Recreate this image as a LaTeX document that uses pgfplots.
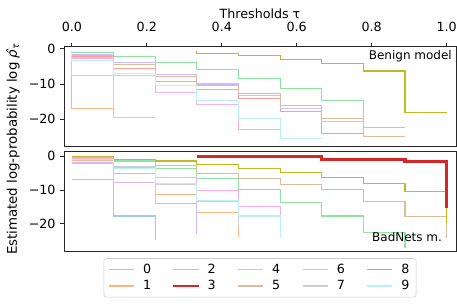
\documentclass[border=0pt]{standalone}
\usepackage{pgfplots}
\pgfplotsset{compat=1.18}
\usepackage{fontspec}
\setmainfont{DejaVu Sans}
\definecolor{c0}{HTML}{A1C9F4}
\definecolor{c1}{HTML}{FFB482}
\definecolor{c2}{HTML}{8DE5A1}
\definecolor{c3p}{HTML}{FF9F9B}
\definecolor{c3}{HTML}{D62728}
\definecolor{c4}{HTML}{D0BBFF}
\definecolor{c5}{HTML}{DEBB9B}
\definecolor{c6}{HTML}{FAB0E4}
\definecolor{c7}{HTML}{CFCFCF}
\definecolor{c8}{HTML}{BCBD22}
\definecolor{c9}{HTML}{B9F2F0}
\pgfplotsset{
  panel/.style={
    scale only axis, width=294pt, height=75pt,
    xmin=-0.021, xmax=1.025,
    tick align=outside,
    major tick length=3pt,
    tick style={black!85, line width=0.6pt},
    axis line style={black!85, line width=0.6pt},
    ytick={-20,-10,0}, yticklabels={−20,−10,0},
    ytick pos=left,
    every tick label/.append style={font=\fontsize{9.5}{11}\selectfont},
    label style={font=\fontsize{9.5}{11}\selectfont},
    every axis plot/.append style={no marks, line width=0.8pt},
  },
}
\begin{document}
\fontsize{9.5}{11}\selectfont
\begin{tikzpicture}
% ---------------- top panel: benign model ----------------
\begin{axis}[panel, at={(0pt,78.9pt)}, anchor=south west,
  ymin=-27.8, ymax=0.66,
  xtick={0,0.2,0.4,0.6,0.8,1}, xticklabels={0.0,0.2,0.4,0.6,0.8,1.0},
  xtick pos=right, xticklabel pos=right,
  xticklabel style={yshift=5pt},
  xlabel={Thresholds τ},
  xlabel style={at={(axis description cs:0.5,1)}, anchor=center, yshift=24.75pt},
  every axis plot/.append style={const plot mark right},
]
\addplot[c1] coordinates {(0,-0.6)(0.1111,-16.9)};
\addplot[c2] coordinates {(0,-0.6)(0.1111,-1.06)(0.2222,-2.3)(0.3333,-4.0)(0.4444,-6.0)(0.5556,-8.5)(0.6667,-11.4)(0.7778,-14.7)(0.8889,-22.4)};
\addplot[c3p] coordinates {(0,-0.6)(0.1111,-2.2)(0.2222,-5.7)(0.3333,-9.2)(0.4444,-11.7)(0.5556,-14.0)(0.6667,-17.8)(0.7778,-24.0)};
\addplot[c4] coordinates {(0,-0.6)(0.1111,-1.5)(0.2222,-4.0)(0.3333,-7.3)(0.4444,-10.0)(0.5556,-13.3)(0.6667,-17.0)(0.7778,-20.7)};
\addplot[c5] coordinates {(0,-0.6)(0.1111,-1.8)(0.2222,-4.5)(0.3333,-8.0)(0.4444,-10.4)(0.5556,-12.8)(0.6667,-16.1)(0.7778,-19.9)(0.8889,-25.0)};
\addplot[c6] coordinates {(0,-0.6)(0.1111,-2.6)(0.2222,-7.6)(0.3333,-12.3)(0.4444,-15.9)(0.5556,-23.0)};
\addplot[c7] coordinates {(0,-0.6)(0.1111,-7.6)(0.2222,-19.5)};
\addplot[c8] coordinates {(0.3333,-0.6)(0.4444,-1.2)(0.5556,-2.0)(0.6667,-3.0)(0.7778,-4.2)(0.8889,-6.3)(1.0,-18.0)};
\addplot[c9] coordinates {(0,-0.6)(0.1111,-3.2)(0.2222,-7.0)(0.3333,-10.3)(0.4444,-14.7)(0.5556,-19.9)(0.6667,-25.5)};
\node[anchor=east, inner sep=0pt, font=\fontsize{9}{11}\selectfont] at (rel axis cs:0.99,0.9) {Benign model};
\end{axis}
% ---------------- bottom panel: BadNets model ----------------
\begin{axis}[panel, at={(0pt,0pt)}, anchor=south west,
  ymin=-28.3, ymax=1.35,
  xtick=\empty,
  every axis plot/.append style={const plot mark left},
  legend columns=5,
  legend image code/.code={\draw[#1, line width=1.4pt] (0pt,0pt) -- (19pt,0pt);},
  legend style={at={(0.5,-0.065)}, anchor=north, draw=black!20, rounded corners=2pt,
    font=\fontsize{9.5}{11}\selectfont, inner xsep=3pt, inner ysep=2pt,
    /tikz/every odd column/.append style={column sep=4pt},
    /tikz/every even column/.append style={column sep=14pt}},
  legend cell align=left,
]
\addlegendimage{c0}\addlegendentry{0}
\addlegendimage{c2}\addlegendentry{2}
\addlegendimage{c4}\addlegendentry{4}
\addlegendimage{c6}\addlegendentry{6}
\addlegendimage{c8}\addlegendentry{8}
\addlegendimage{c1}\addlegendentry{1}
\addlegendimage{c3}\addlegendentry{3}
\addlegendimage{c5}\addlegendentry{5}
\addlegendimage{c7}\addlegendentry{7}
\addlegendimage{c9}\addlegendentry{9}
\addplot[c0, forget plot] coordinates {(0,-6.8)(0.1111,-17.7)(0.2222,-24.8)};
\addplot[c1, forget plot] coordinates {(0,-1.3)(0.1111,-5.1)(0.2222,-11.4)(0.3333,-16.8)(0.4444,-24.0)};
\addplot[c2, forget plot] coordinates {(0,-0.4)(0.1111,-1.4)(0.2222,-3.6)(0.3333,-6.5)(0.4444,-9.9)(0.5556,-13.6)(0.6667,-17.7)(0.7778,-22.6)(0.8889,-27.1)};
\addplot[c4, forget plot] coordinates {(0,-2.0)(0.1111,-7.7)(0.2222,-14.0)(0.3333,-23.0)};
\addplot[c5, forget plot] coordinates {(0,-0.4)(0.1111,-1.6)(0.2222,-2.8)(0.3333,-5.1)(0.4444,-6.7)(0.5556,-8.4)(0.6667,-9.9)(0.7778,-13.3)(0.8889,-17.8)(1.0,-24.3)};
\addplot[c6, forget plot] coordinates {(0,-0.6)(0.1111,-3.3)(0.2222,-6.4)(0.3333,-10.1)(0.4444,-15.0)(0.5556,-17.5)};
\addplot[c7, forget plot] coordinates {(0,-1.0)(0.1111,-3.1)(0.2222,-8.3)(0.3333,-13.3)(0.4444,-21.0)};
\addplot[c8, forget plot] coordinates {(0,-0.2)(0.1111,-0.9)(0.2222,-1.4)(0.3333,-2.4)(0.4444,-3.6)(0.5556,-4.8)(0.6667,-6.3)(0.7778,-8.0)(0.8889,-10.4)(1.0,-20.1)};
\addplot[c9, forget plot] coordinates {(0,-1.0)(0.1111,-3.6)(0.2222,-8.1)(0.3333,-13.0)(0.4444,-17.7)(0.5556,-24.2)};
\addplot[c3, line width=2.5pt, forget plot] coordinates {(0.3333,0.0)(0.4444,0.0)(0.5556,0.0)(0.6667,-0.9)(0.7778,-0.9)(0.8889,-1.5)(1.0,-15.3)};
\node[anchor=east, inner sep=0pt, font=\fontsize{9}{11}\selectfont] at (rel axis cs:0.965,0.145) {BadNets m.};
\end{axis}
\node[rotate=90, font=\fontsize{10}{12}\selectfont] at (-38.25pt,77pt) {Estimated log-probability log \textit{ρ̂}\textsubscript{\textit{τ}}};
\pgfresetboundingbox
\path[use as bounding box] (-48pt,-38.5pt) rectangle (294.75pt,188.8pt);
\end{tikzpicture}
\end{document}
